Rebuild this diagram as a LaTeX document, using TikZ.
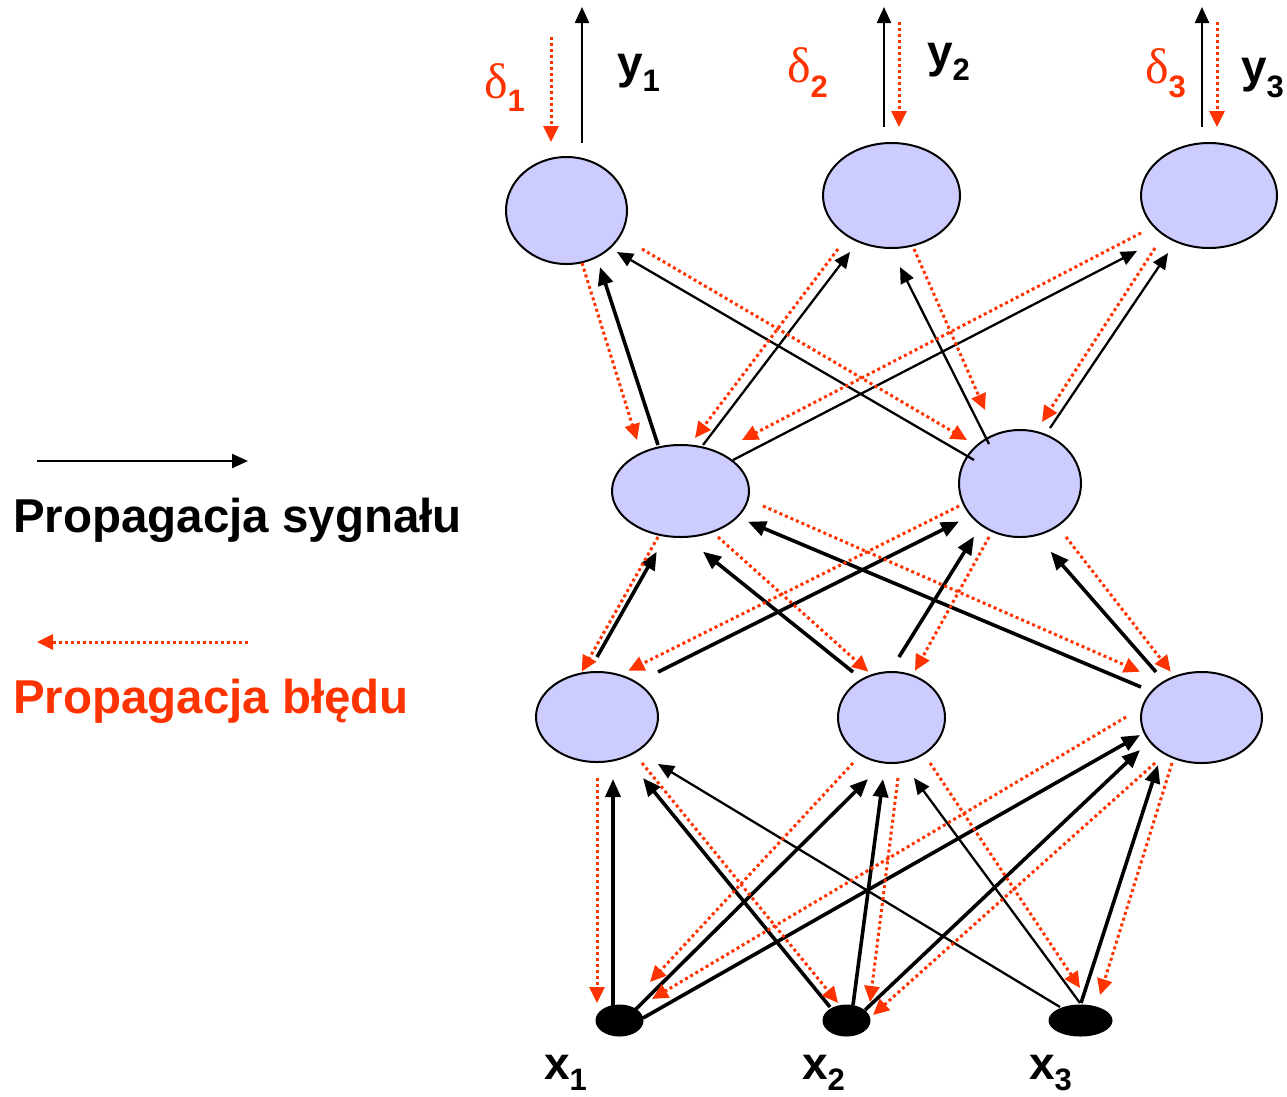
\documentclass[tikz,border=0pt]{standalone}
\usepackage{fontspec}
\setmainfont{Liberation Sans}
\newfontfamily\serifd{Liberation Serif}
\usetikzlibrary{shapes.geometric,arrows.meta,calc}
\definecolor{errc}{RGB}{255,51,0}
\definecolor{neur}{RGB}{204,204,255}
\tikzset{
  neuron/.style={ellipse,draw=black,line width=2pt,fill=neur,inner sep=0pt,outer sep=0pt},
  inp/.style={ellipse,draw=black,line width=1pt,fill=black,inner sep=0pt,outer sep=0pt},
  sig/.style={draw=black,line width=3.6pt,-{Triangle[length=18pt,width=15pt]}},
  sigthin/.style={draw=black,line width=2.3pt,-{Triangle[length=16pt,width=14pt]}},
  err/.style={draw=errc,line width=3pt,dash pattern=on 3pt off 3pt,-{Triangle[length=16pt,width=15pt]}},
  lab/.style={anchor=base west,inner sep=0pt,outer sep=0pt},
}
\newcommand\bigf{\fontsize{46}{46}\selectfont\bfseries}
\newcommand\subf{\fontsize{31}{31}\selectfont\bfseries}
\newcommand\deltaf{\fontsize{50}{50}\selectfont\serifd}
\begin{document}
\begin{tikzpicture}[x=1pt,y=-1pt]
\useasboundingbox (0,0) rectangle (1287,1096);
% nodes
\node[neuron,minimum width=121pt,minimum height=107pt] (O1) at (566.5,210.5) {};
\node[neuron,minimum width=137pt,minimum height=105pt] (O2) at (891.5,195.5) {};
\node[neuron,minimum width=136pt,minimum height=105pt] (O3) at (1209,195.5) {};
\node[neuron,minimum width=137pt,minimum height=92pt] (H1) at (680.5,491) {};
\node[neuron,minimum width=122pt,minimum height=107pt] (H2) at (1020,483.5) {};
\node[neuron,minimum width=122pt,minimum height=90pt] (L1) at (597,717) {};
\node[neuron,minimum width=107pt,minimum height=91pt] (L2) at (891.5,717.5) {};
\node[neuron,minimum width=121pt,minimum height=91pt] (L3) at (1201.5,717.5) {};
\node[inp,minimum width=47pt,minimum height=31pt] (X1) at (619.5,1020.5) {};
\node[inp,minimum width=47pt,minimum height=31pt] (X2) at (846.5,1020.5) {};
\node[inp,minimum width=63pt,minimum height=31pt] (X3) at (1080.5,1020.5) {};

% top outputs
\draw[sigthin] ($(O1)+(15.5,-67.5)$) -- ($(O1)+(15.5,-203.5)$);
\draw[err] ($(O1)+(-15.5,-173.5)$) -- ($(O1)+(-15.5,-68.5)$);
\draw[sigthin] ($(O2)+(-7.5,-68.5)$) -- ($(O2)+(-7.5,-188.5)$);
\draw[err] ($(O2)+(7.5,-173.5)$) -- ($(O2)+(7.5,-68.5)$);
\draw[sigthin] ($(O3)+(-7,-68.5)$) -- ($(O3)+(-7,-188.5)$);
\draw[err] ($(O3)+(8,-173.5)$) -- ($(O3)+(8,-68.5)$);

% H -> O signal
\draw[sig] ($(H1)+(-22.5,-46)$) -- ($(O1)+(33.5,56.5)$);
\draw[sigthin] ($(H2)+(-46,-23.5)$) -- ($(O1)+(50.5,41.5)$);
\draw[sigthin] ($(H1)+(22.5,-46)$) -- ($(O2)+(-41.5,56.5)$);
\draw[sigthin] ($(H2)+(-31,-39.5)$) -- ($(O2)+(8.5,71.5)$);
\draw[sigthin] ($(H1)+(52.5,-31)$) -- ($(O3)+(-72,55.5)$);
\draw[sigthin] ($(H2)+(30,-55.5)$) -- ($(O3)+(-41,57.5)$);
% O -> H error
\draw[err] ($(O1)+(15.5,52.5)$) -- ($(H1)+(-43.5,-51)$);
\draw[err] ($(O1)+(75.5,38.5)$) -- ($(H2)+(-53,-43.5)$);
\draw[err] ($(O2)+(-53.5,53.5)$) -- ($(H1)+(14.5,-53)$);
\draw[err] ($(O2)+(22.5,53.5)$) -- ($(H2)+(-35,-73.5)$);
\draw[err] ($(O3)+(-68,37.5)$) -- ($(H1)+(61.5,-51)$);
\draw[err] ($(O3)+(-54,52.5)$) -- ($(H2)+(22,-61.5)$);

% L -> H signal
\draw[sig] ($(L1)+(0,-60)$) -- ($(H1)+(-23.8,60.7)$);
\draw[sig] ($(L1)+(61,-45)$) -- ($(H2)+(-61,38)$);
\draw[sig] ($(L2)+(-38.5,-45.5)$) -- ($(H1)+(22.5,60.7)$);
\draw[sig] ($(L2)+(7.5,-60.5)$) -- ($(H2)+(-46,53)$);
\draw[sig] ($(L3)+(-60.5,-30.5)$) -- ($(H1)+(67.5,30.7)$);
\draw[sig] ($(L3)+(-45.5,-45.5)$) -- ($(H2)+(30.7,68.2)$);
% H -> L error
\draw[err] ($(H1)+(-22.5,46)$) -- ($(L1)+(-15.3,-45.3)$);
\draw[err] ($(H1)+(37.5,46)$) -- ($(L2)+(-23.2,-45.8)$);
\draw[err] ($(H1)+(82.5,15)$) -- ($(L3)+(-61.5,-45.8)$);
\draw[err] ($(H2)+(-61,22.5)$) -- ($(L1)+(31.3,-46.3)$);
\draw[err] ($(H2)+(-31,53.5)$) -- ($(L2)+(23.5,-46.8)$);
\draw[err] ($(H2)+(46,53.5)$) -- ($(L3)+(-30.8,-45.8)$);

% X -> L signal
\draw[sig] ($(X1)+(-6.5,-13.5)$) -- ($(L1)+(16,62)$);
\draw[sig] ($(X1)+(15.5,-10.5)$) -- ($(L2)+(-23.5,61.5)$);
\draw[sig] ($(X1)+(23.5,-2.5)$) -- ($(L3)+(-61.5,17.5)$);
\draw[sig] ($(X2)+(-16.5,-13.5)$) -- ($(L1)+(46,61)$);
\draw[sig] ($(X2)+(6.5,-15.5)$) -- ($(L2)+(-8.5,61.5)$);
\draw[sig] ($(X2)+(18.5,-10.5)$) -- ($(L3)+(-61.5,32.5)$);
\draw[sigthin] ($(X3)+(-20.5,-13.5)$) -- ($(L1)+(61,47)$);
\draw[sigthin] ($(X3)+(-0.5,-17.5)$) -- ($(L2)+(22.5,60.5)$);
\draw[sig] ($(X3)+(0.5,-17.5)$) -- ($(L3)+(-43.5,47.5)$);
% L -> X error
\draw[err] ($(L1)+(0,61)$) -- ($(X1)+(-22.5,-17.5)$);
\draw[err] ($(L1)+(45,46)$) -- ($(X2)+(-8.5,-17.5)$);
\draw[err] ($(L2)+(-38.5,45.5)$) -- ($(X1)+(30.5,-38.5)$);
\draw[err] ($(L2)+(6.5,60.5)$) -- ($(X2)+(23.5,-18.5)$);
\draw[err] ($(L2)+(38.5,45.5)$) -- ($(X3)+(-0.5,-32.5)$);
\draw[err] ($(L3)+(-75.5,-0.5)$) -- ($(X1)+(32.5,-21.5)$);
\draw[err] ($(L3)+(-46.5,45.5)$) -- ($(X2)+(26.5,-5.5)$);
\draw[err] ($(L3)+(-29.5,45.5)$) -- ($(X3)+(19.5,-25.5)$);

% labels
\node[lab] (ly1) at (617,78) {\bigf y\raisebox{-13pt}{\subf 1}};
\node[lab] (ly2) at (927,67) {\bigf y\raisebox{-13pt}{\subf 2}};
\node[lab] (ly3) at (1241,82) {\bigf y\raisebox{-15pt}{\subf 3}};
\node[lab,text=errc] (ld1) at (484,98) {\deltaf δ\raisebox{-13pt}{\subf\rmfamily 1}};
\node[lab,text=errc] (ld2) at (787,82) {\deltaf δ\raisebox{-15pt}{\subf\rmfamily 2}};
\node[lab,text=errc] (ld3) at (1145,83) {\deltaf δ\raisebox{-14pt}{\subf\rmfamily 3}};
\node[lab] (lx1) at (544,1079) {\bigf x\raisebox{-11pt}{\subf 1}};
\node[lab] (lx2) at (802,1079) {\bigf x\raisebox{-11pt}{\subf 2}};
\node[lab] (lx3) at (1029,1079) {\bigf x\raisebox{-11pt}{\subf 3}};

% legend
\coordinate (lgs1) at (37,461);
\coordinate (lge1) at (248,461);
\coordinate (lgs2) at (248,642);
\coordinate (lge2) at (37,642);
\draw[draw=black,line width=2.3pt,-{Triangle[length=16pt,width=14pt]}] (lgs1) -- (lge1);
\draw[err] (lgs2) -- (lge2);
\node[lab] (leg1) at (13,532) {\fontsize{47.5}{47.5}\selectfont\bfseries Propagacja sygnału};
\node[lab,text=errc] (leg2) at (13,713) {\fontsize{47.5}{47.5}\selectfont\bfseries Propagacja błędu};
\end{tikzpicture}
\end{document}
